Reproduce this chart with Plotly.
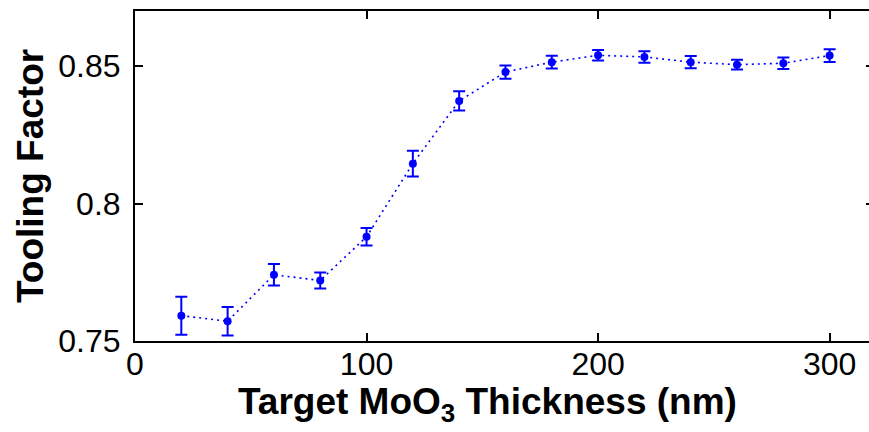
import plotly.graph_objects as go

thickness = [20, 40, 60, 80, 100, 120, 140, 160, 180, 200, 220, 240, 260, 280, 300]
tooling = [0.7592, 0.7572, 0.7741, 0.7720, 0.7879, 0.8145, 0.8373, 0.8478, 0.8514,
           0.8539, 0.8533, 0.8514, 0.8505, 0.8510, 0.8538]
err = [0.0069, 0.0052, 0.0039, 0.0029, 0.0032, 0.0047, 0.0035, 0.0024, 0.0023,
       0.0019, 0.0021, 0.0022, 0.0018, 0.0021, 0.0023]
xticks = [0, 100, 200, 300]
yticks = [0.75, 0.8, 0.85]
ytick_text = ["0.75", "0.8", "0.85"]

blue = "rgb(0,0,255)"
font_family = "Liberation Sans, Arial"

fig = go.Figure()
fig.add_trace(go.Scatter(
    x=thickness, y=tooling, mode="lines+markers",
    line=dict(color=blue, width=1.6, dash="2px,4px"),
    marker=dict(color=blue, size=8, symbol="circle"),
    error_y=dict(type="data", array=err, visible=True, color=blue, thickness=2, width=6),
    showlegend=False,
))
# empty trace so the right-hand tick axis is drawn
fig.add_trace(go.Scatter(x=[], y=[], yaxis="y2", showlegend=False, hoverinfo="skip"))

tick_font = dict(family=font_family, size=32, color="black")
fig.update_layout(
    xaxis=dict(
        range=[0, 317.0], tickvals=xticks,
        showline=True, linecolor="black", linewidth=2, mirror="ticks",
        ticks="inside", ticklen=8, tickwidth=1.5, tickcolor="black",
        showgrid=False, zeroline=False, tickfont=tick_font, ticklabelstandoff=-6,
    ),
    yaxis=dict(
        range=[0.75, 0.87], tickvals=yticks, ticktext=ytick_text,
        showline=True, linecolor="black", linewidth=2, mirror=False,
        ticks="inside", ticklen=8, tickwidth=1.5, tickcolor="black",
        showgrid=False, zeroline=False, tickfont=tick_font, ticklabelstandoff=6,
    ),
    yaxis2=dict(
        range=[0.75, 0.87], tickvals=yticks, overlaying="y", side="right",
        showline=False, ticks="inside", ticklen=3, tickwidth=1.5, tickcolor="black",
        showticklabels=False, showgrid=False, zeroline=False,
    ),
)

fig.add_annotation(
    text="<b>Target MoO<sub>3</sub> Thickness (nm)</b>", xref="paper", yref="paper",
    x=(487 - 135) / 734, y=-0.115, xanchor="center", yanchor="top", showarrow=False,
    font=dict(family=font_family, size=37, color="black"),
)
fig.add_annotation(
    text="<b>Tooling Factor</b>", xref="paper", yref="paper",
    x=-0.143, y=0.5, xanchor="center", yanchor="middle", textangle=-90, showarrow=False,
    font=dict(family=font_family, size=37, color="black"),
)

fig.update_layout(
    width=869, height=432,
    margin=dict(l=135, r=0, t=11, b=91),
    paper_bgcolor="white", plot_bgcolor="white",
)

fig.write_html("out.html")
